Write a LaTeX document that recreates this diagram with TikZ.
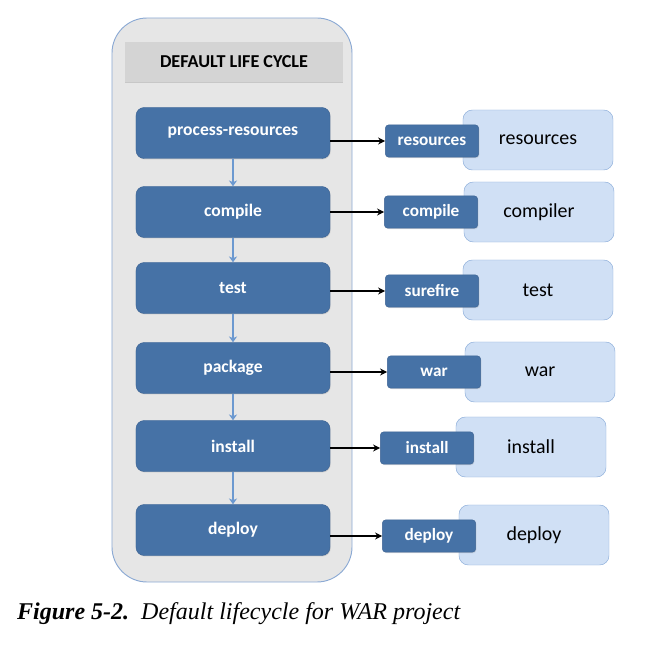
\documentclass[tikz,border=0pt]{standalone}
\usepackage{fontspec}
\setmainfont{Liberation Serif}
\newfontfamily\boxfont{Carlito}
\usetikzlibrary{shadows,arrows.meta}
\definecolor{phasefill}{RGB}{70,114,166}
\definecolor{phaseline}{RGB}{62,100,148}
\definecolor{goalfill}{RGB}{208,224,245}
\definecolor{goalline}{RGB}{140,174,218}
\definecolor{cyclefill}{RGB}{230,230,230}
\definecolor{cycleline}{RGB}{140,170,212}
\definecolor{titlefill}{RGB}{212,212,212}
\definecolor{flowblue}{RGB}{108,153,208}
\begin{document}
\begin{tikzpicture}[x=0.03cm,y=-0.03cm,
    phase/.style={draw=phaseline, fill=phasefill, rounded corners=7pt, minimum width=5.82cm,
      minimum height=1.53cm, text=white, font=\boxfont\bfseries\fontsize{15}{17}\selectfont,
      drop shadow={opacity=0.25, shadow xshift=0.6pt, shadow yshift=-0.8pt}},
    plugin/.style={draw=phaseline, fill=phasefill, rounded corners=3pt, minimum width=2.8cm,
      minimum height=0.97cm, text=white, font=\boxfont\bfseries\fontsize{14.7}{16}\selectfont,
      drop shadow={opacity=0.25, shadow xshift=0.6pt, shadow yshift=-0.8pt}},
    goal/.style={draw=goalline, fill=goalfill, rounded corners=8pt, minimum width=4.5cm,
      minimum height=1.8cm, font=\boxfont\fontsize{17}{19}\selectfont},
    flow/.style={->, flowblue, line width=1.8pt, >={Stealth[length=5pt,width=7pt]}},
    bind/.style={->, black, line width=1pt, >={Stealth[length=6pt,width=6pt]}}]
    \useasboundingbox (0,0) rectangle (661,648);
    % life cycle container
    \node[draw=cycleline, fill=cyclefill, rounded corners=30pt, line width=0.8pt,
      minimum width=7.2cm, minimum height=16.92cm] (cycle) at (232,300) {};
    \node[fill=titlefill, minimum width=6.54cm, minimum height=1.2cm,
      font=\boxfont\bfseries\fontsize{15.5}{17}\selectfont,
      drop shadow={opacity=0.3, shadow xshift=0pt, shadow yshift=-1pt}] (title) at (234,62) {DEFAULT LIFE CYCLE};
    % phases
    \node[phase] (p1) at (233,133) {process-resources};
    \node[phase] (p2) at (233,212) {compile};
    \node[phase] (p3) at (233,288) {test};
    \node[phase] (p4) at (233,368) {package};
    \node[phase] (p5) at (233,446) {install};
    \node[phase] (p6) at (233,530) {deploy};
    \foreach \a/\b in {p1/p2,p2/p3,p3/p4,p4/p5,p5/p6}
      \draw[flow] (\a.south) -- (\b.north);
    % goals
    \node[goal] (g1) at (538,140) {resources};
    \node[goal] (g2) at (539,212) {compiler};
    \node[goal] (g3) at (538,290) {test};
    \node[goal] (g4) at (540,372) {war};
    \node[goal] (g5) at (531,447) {install};
    \node[goal] (g6) at (534,535) {deploy};
    % plugins
    \node[plugin] (m1) at (432,141) {resources};
    \node[plugin] (m2) at (431,212) {compile};
    \node[plugin] (m3) at (432,291) {surefire};
    \node[plugin] (m4) at (434,372) {war};
    \node[plugin] (m5) at (427,448) {install};
    \node[plugin] (m6) at (429,536) {deploy};
    \foreach \i in {1,...,6}
      \draw[bind] (p\i.east |- m\i.west) -- (m\i.west);
    % caption
    \node[anchor=west, font=\fontsize{20.5}{22}\selectfont] (caption) at (13,614)
      {\textbf{\textit{Figure 5-2.}}\hspace{0.5em}\textit{Default lifecycle for WAR project}};
\end{tikzpicture}
\end{document}
